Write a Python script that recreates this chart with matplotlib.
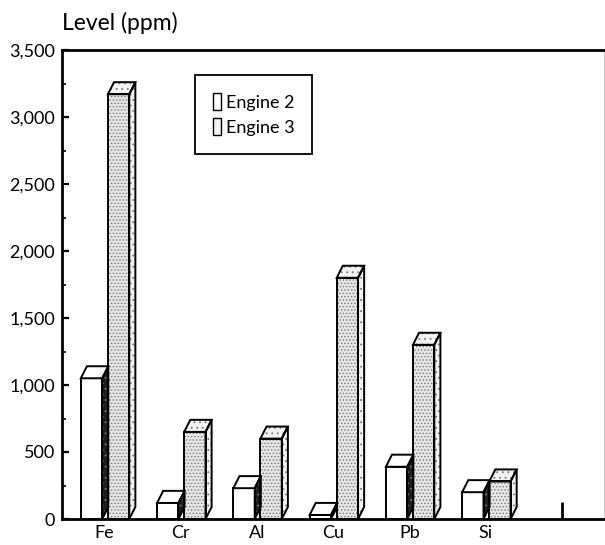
import matplotlib
matplotlib.use("Agg")
import matplotlib.pyplot as plt
from matplotlib.patches import Polygon, Patch
from matplotlib.ticker import MultipleLocator, StrMethodFormatter, FixedLocator

plt.rcParams['font.family'] = ['Lato', 'DejaVu Sans']
plt.rcParams['hatch.linewidth'] = 0.6

categories = ["Fe", "Cr", "Al", "Cu", "Pb", "Si"]
engine2 = [1050, 120, 230, 30, 390, 200]
engine3 = [3170, 650, 600, 1800, 1300, 280]
series_labels = ["Engine 2", "Engine 3"]

fig = plt.figure(figsize=(6.05, 5.45), dpi=100)
ax = fig.add_axes([62/605, 26/545, 542/605, 469/545])
ax.set_xlim(-0.557, 6.55)
ax.set_ylim(0, 3500)

W = 0.28
DX = 0.08
DY = 90


def bar3d(x0, h, front, top, side, hatch_front=None, hatch_top=None, hatch_side=None, hc='#888888'):
    faces = [
        ([(x0, 0), (x0 + W, 0), (x0 + W, h), (x0, h)], front, hatch_front),
        ([(x0, h), (x0 + W, h), (x0 + W + DX, h + DY), (x0 + DX, h + DY)], top, hatch_top),
        ([(x0 + W, 0), (x0 + W + DX, DY), (x0 + W + DX, h + DY), (x0 + W, h)], side, hatch_side),
    ]
    for pts, fc, hatch in faces:
        if hatch:
            ax.add_patch(Polygon(pts, closed=True, facecolor=fc, edgecolor=hc,
                                 hatch=hatch, lw=0, zorder=2))
            ax.add_patch(Polygon(pts, closed=True, facecolor='none', edgecolor='black',
                                 lw=1.4, zorder=3, joinstyle='miter'))
        else:
            ax.add_patch(Polygon(pts, closed=True, facecolor=fc, edgecolor='black',
                                 lw=1.4, zorder=3, joinstyle='miter'))


for i, (a, b) in enumerate(zip(engine2, engine3)):
    bar3d(i - 0.31, a, 'white', 'white', '#1e1e1e', hatch_side='...', hc='#777777')
for i, (a, b) in enumerate(zip(engine2, engine3)):
    bar3d(i + 0.045, b, '#e6e6e6', '#f2f2f2', '#f2f2f2',
          hatch_front='.....', hatch_top='...', hatch_side='...', hc='#7a7a7a')

# axes styling
for s in ['left', 'bottom', 'top']:
    ax.spines[s].set_linewidth(2.0)
ax.spines['right'].set_linewidth(0.6)
ax.spines['right'].set_color('#bbbbbb')

ax.yaxis.set_major_locator(MultipleLocator(500))
ax.yaxis.set_minor_locator(MultipleLocator(250))
ax.yaxis.set_major_formatter(StrMethodFormatter('{x:,.0f}'))
ax.tick_params(axis='y', which='major', direction='in', length=5, width=1.6, labelsize=13, pad=5)
ax.tick_params(axis='y', which='minor', direction='in', length=3, width=1.2)

ax.set_xticks(range(len(categories)))
ax.set_xticklabels(categories)
ax.tick_params(axis='x', which='major', length=0, labelsize=13, pad=4)
ax.xaxis.set_minor_locator(FixedLocator([len(categories)]))
ax.tick_params(axis='x', which='minor', direction='in', length=12, width=2)
ax.tick_params(right=False, top=False)

fig.text(62/605, 1 - 23/545, "Level (ppm)", fontsize=16.5, ha='left', va='center')

handles = [Patch(facecolor='white', edgecolor='black', lw=1.0),
           Patch(facecolor='#f4f4f4', edgecolor='black', lw=1.0)]
leg = ax.legend(handles, series_labels, loc='upper left',
                bbox_to_anchor=((195 - 62) / 542, (519 - 75) / 469),
                fontsize=13, frameon=True, fancybox=False, edgecolor='black',
                framealpha=1, handlelength=0.45, handleheight=1.1, handletextpad=0.25,
                borderpad=1.0, borderaxespad=0, labelspacing=0.4)
leg.get_frame().set_linewidth(1.3)
leg._legend_box.align = 'left'

fig.savefig("out.png", dpi=100)
